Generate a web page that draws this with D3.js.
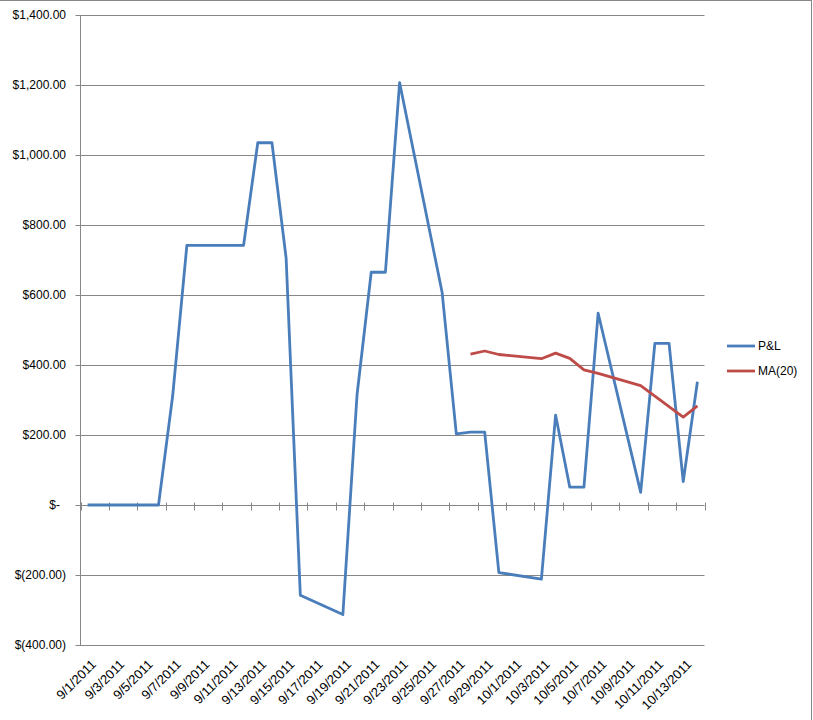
<!DOCTYPE html>
<html><head><meta charset="utf-8">
<script src="https://cdn.jsdelivr.net/npm/d3@7"></script>
<style>
body{margin:0;background:#fff;}
text{font-family:"Liberation Sans",Arial,sans-serif;font-size:12px;fill:#000;}
.xl{font-size:13px;}
</style></head>
<body><svg id="c" width="813" height="720"></svg>
<script>
const pnlDates = ["2011-09-01","2011-09-02","2011-09-06","2011-09-07","2011-09-08","2011-09-09","2011-09-12","2011-09-13","2011-09-14","2011-09-15","2011-09-16","2011-09-19","2011-09-20","2011-09-21","2011-09-22","2011-09-23","2011-09-26","2011-09-27","2011-09-28","2011-09-29","2011-09-30","2011-10-03","2011-10-04","2011-10-05","2011-10-06","2011-10-07","2011-10-10","2011-10-11","2011-10-12","2011-10-13","2011-10-14"];
const pnlValues = [0,0,0,312,742,742,742,1035,1035,705,-258,-313,315,665,665,1207,607,203,208,208,-193,-212,257,51,51,548,36,462,462,67,352];
const maDates = ["2011-09-28","2011-09-29","2011-09-30","2011-10-03","2011-10-04","2011-10-05","2011-10-06","2011-10-07","2011-10-10","2011-10-11","2011-10-12","2011-10-13","2011-10-14"];
const maValues = [431,440,430,418,434,419,386,376,341,311,281,251,283];
const yTicks = [-400,-200,0,200,400,600,800,1000,1200,1400];
const seriesNames = ["P&L","MA(20)"];
const seriesColors = ["#4a7ebb","#be4b48"];

const svg = d3.select("#c");
const parse = d3.utcParse("%Y-%m-%d");
const DAY = 864e5;
const first = parse("2011-09-01"), last = parse("2011-10-14");
const L = 80.5, R = 704.5, T = 15, B = 645;
const x = d3.scaleUtc().domain([new Date(+first - DAY/2), new Date(+last + DAY/2)]).range([L, R]);
const y = d3.scaleLinear().domain([-400,1400]).range([B, T]);

// border
svg.append("line").attr("x1",0).attr("x2",812).attr("y1",0.5).attr("y2",0.5).attr("stroke","#888");
svg.append("line").attr("x1",811.5).attr("x2",811.5).attr("y1",0).attr("y2",720).attr("stroke","#888");

// gridlines
svg.append("g").selectAll("line").data(yTicks).join("line")
  .attr("x1",L-5).attr("x2",R).attr("y1",d=>Math.round(y(d))+0.5).attr("y2",d=>Math.round(y(d))+0.5)
  .attr("stroke","#878787").attr("stroke-width",1);
// y axis line
svg.append("line").attr("x1",L).attr("x2",L).attr("y1",T).attr("y2",B).attr("stroke","#878787");
// y labels
const fmt = d3.format(",.2f");
svg.append("g").selectAll("text").data(yTicks).join("text")
  .attr("x",d=> d===0 ? 60 : 66).attr("y",d=>y(d)).attr("dy","0.35em").attr("text-anchor","end")
  .text(d=> d===0 ? "$-" : d<0 ? "$(" + fmt(-d) + ")" : "$" + fmt(d));

// x axis at zero
const y0 = Math.round(y(0))+0.5;
const tickSet = [];
for (let t = +first - DAY/2; t <= +last + DAY/2 + 1; t += 2*DAY) tickSet.push(new Date(t));
svg.append("g").selectAll("line").data(tickSet).join("line")
  .attr("x1",d=>Math.round(x(d))+0.5).attr("x2",d=>Math.round(x(d))+0.5)
  .attr("y1",y0-3).attr("y2",y0+5).attr("stroke","#878787");
const labelDates = d3.utcDay.every(1).range(first, new Date(+last + DAY)).filter((d,i)=>i%2===0);
const xfmt = d3.utcFormat("%-m/%-d/%Y");
svg.append("g").selectAll("text").data(labelDates).join("text")
  .attr("class","xl")
  .attr("transform",d=>`translate(${x(d)+6},${662}) rotate(-45)`)
  .attr("text-anchor","end").attr("dy","0.35em")
  .text(d=>xfmt(d));

// lines
const line = d3.line().x(d=>x(d[0])).y(d=>y(d[1]));
const pnl = pnlDates.map((d,i)=>[parse(d), pnlValues[i]]);
const ma = maDates.map((d,i)=>[parse(d), maValues[i]]);
svg.append("path").datum(pnl).attr("d",line).attr("fill","none").attr("stroke",seriesColors[0]).attr("stroke-width",2.8).attr("stroke-linejoin","round");
svg.append("path").datum(ma).attr("d",line).attr("fill","none").attr("stroke",seriesColors[1]).attr("stroke-width",2.8).attr("stroke-linejoin","round");

// legend
const lg = svg.append("g").selectAll("g").data(seriesNames).join("g")
  .attr("transform",(d,i)=>`translate(727,${346 + i*25})`);
lg.append("line").attr("x1",0).attr("x2",28).attr("stroke",(d,i)=>seriesColors[i]).attr("stroke-width",2.8);
lg.append("text").attr("x",31).attr("dy","0.35em").text(d=>d);
</script></body></html>
